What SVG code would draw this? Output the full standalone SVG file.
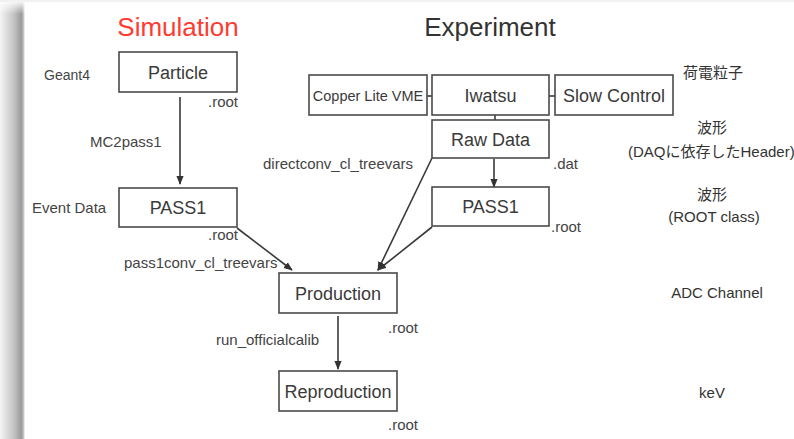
<svg xmlns="http://www.w3.org/2000/svg" width="794" height="439" viewBox="0 0 794 439">
  <defs>
    <linearGradient id="edgeShade" x1="0" y1="0" x2="1" y2="0">
      <stop offset="0" stop-color="#f4f4f4"/>
      <stop offset="0.55" stop-color="#c4c4c4"/>
      <stop offset="0.85" stop-color="#9a9a9a"/>
      <stop offset="0.93" stop-color="#b8b8b8"/>
      <stop offset="1" stop-color="#ffffff"/>
    </linearGradient>
    <linearGradient id="topShade" x1="0" y1="0" x2="0" y2="1">
      <stop offset="0" stop-color="#ffffff"/>
      <stop offset="1" stop-color="#ffffff" stop-opacity="0"/>
    </linearGradient>
    <marker id="arrow" viewBox="0 0 10 10" refX="9" refY="5" markerWidth="9" markerHeight="9" markerUnits="userSpaceOnUse" orient="auto">
      <path d="M0,1 L10,5 L0,9 Z" fill="#333"/>
    </marker>
    <style>
      .box { fill: #ffffff; stroke: #4a4a4a; stroke-width: 1.6; }
      .boxlabel { font-family: "Liberation Sans", Arial, sans-serif; font-size: 18px; fill: #3a3a3a; text-anchor: middle; }
      .label { font-family: "Liberation Sans", Arial, sans-serif; font-size: 15px; fill: #444; }
      .note { font-family: "Liberation Sans", "Noto Sans CJK JP", sans-serif; font-size: 15px; fill: #333; text-anchor: middle; }
      .title { font-family: "Liberation Sans", Arial, sans-serif; font-size: 26px; text-anchor: middle; }
      .link { fill: none; stroke: #3a3a3a; stroke-width: 1.6; }
    </style>
  </defs>

  <!-- page background with shaded left edge -->
  <rect x="0" y="0" width="794" height="439" fill="#ffffff"/>
  <rect x="0" y="0" width="25" height="439" fill="url(#edgeShade)"/>
  <rect x="0" y="0" width="25" height="14" fill="url(#topShade)"/>
  <rect x="0" y="0" width="794" height="2" fill="#f1f1f1"/>

  <!-- column titles -->
  <text class="title" x="178" y="36" fill="#ff3b30">Simulation</text>
  <text class="title" x="490" y="36" fill="#333">Experiment</text>

  <!-- connectors -->
  <g id="connectors">
    <line class="link" x1="427" y1="96" x2="432" y2="96"/>
    <line class="link" x1="549" y1="96" x2="555" y2="96"/>
    <line class="link" x1="495" y1="115" x2="495" y2="120"/>
    <line class="link" x1="180" y1="97" x2="180" y2="184" marker-end="url(#arrow)"/>
    <line class="link" x1="237" y1="228" x2="292" y2="270" marker-end="url(#arrow)"/>
    <line class="link" x1="432" y1="158" x2="378" y2="270" marker-end="url(#arrow)"/>
    <line class="link" x1="432" y1="227" x2="378" y2="270" marker-end="url(#arrow)"/>
    <line class="link" x1="494" y1="159" x2="494" y2="187" marker-end="url(#arrow)"/>
    <line class="link" x1="338" y1="316" x2="338" y2="369" marker-end="url(#arrow)"/>
  </g>

  <!-- simulation chain -->
  <g id="particle">
    <rect class="box" x="119" y="52" width="118" height="40"/>
    <text class="boxlabel" x="178" y="78.5">Particle</text>
  </g>
  <g id="pass1-sim">
    <rect class="box" x="119" y="188" width="118" height="39"/>
    <text class="boxlabel" x="178" y="214">PASS1</text>
  </g>

  <!-- experiment chain -->
  <g id="copper">
    <rect class="box" x="309" y="75" width="118" height="40"/>
    <text class="boxlabel" x="368" y="101" style="font-size:14.5px">Copper Lite VME</text>
  </g>
  <g id="iwatsu">
    <rect class="box" x="432" y="75" width="117" height="40"/>
    <text class="boxlabel" x="490.5" y="101.5">Iwatsu</text>
  </g>
  <g id="slow-control">
    <rect class="box" x="555" y="75" width="118" height="40"/>
    <text class="boxlabel" x="614" y="101.5">Slow Control</text>
  </g>
  <g id="raw-data">
    <rect class="box" x="432" y="120" width="117" height="38"/>
    <text class="boxlabel" x="490.5" y="145.5">Raw Data</text>
  </g>
  <g id="pass1-exp">
    <rect class="box" x="432" y="187" width="117" height="39"/>
    <text class="boxlabel" x="490.5" y="213">PASS1</text>
  </g>

  <!-- shared chain -->
  <g id="production">
    <rect class="box" x="279" y="273" width="118" height="40"/>
    <text class="boxlabel" x="338" y="299.5">Production</text>
  </g>
  <g id="reproduction">
    <rect class="box" x="279" y="371" width="118" height="40"/>
    <text class="boxlabel" x="338" y="397.5">Reproduction</text>
  </g>

  <!-- side and edge labels -->
  <g id="labels">
    <text class="label" x="44" y="80" style="font-size:14px">Geant4</text>
    <text class="label" x="208" y="107">.root</text>
    <text class="label" x="90" y="147">MC2pass1</text>
    <text class="label" x="32" y="213">Event Data</text>
    <text class="label" x="208" y="240">.root</text>
    <text class="label" x="124" y="268">pass1conv_cl_treevars</text>
    <text class="label" x="263" y="169">directconv_cl_treevars</text>
    <text class="label" x="553" y="169">.dat</text>
    <text class="label" x="551" y="232">.root</text>
    <text class="label" x="388" y="333">.root</text>
    <text class="label" x="216" y="345">run_officialcalib</text>
    <text class="label" x="388" y="430">.root</text>
  </g>

  <!-- data description column -->
  <g id="descriptions">
    <text class="note" x="713" y="78">荷電粒子</text>
    <text class="note" x="712" y="133">波形</text>
    <text class="note" x="711" y="157" style="text-anchor:start" transform="translate(-83,0)">(DAQに依存したHeader)</text>
    <text class="note" x="712" y="200">波形</text>
    <text class="note" x="714" y="222">(ROOT class)</text>
    <text class="note" x="717" y="298">ADC Channel</text>
    <text class="note" x="712" y="398">keV</text>
  </g>
</svg>
